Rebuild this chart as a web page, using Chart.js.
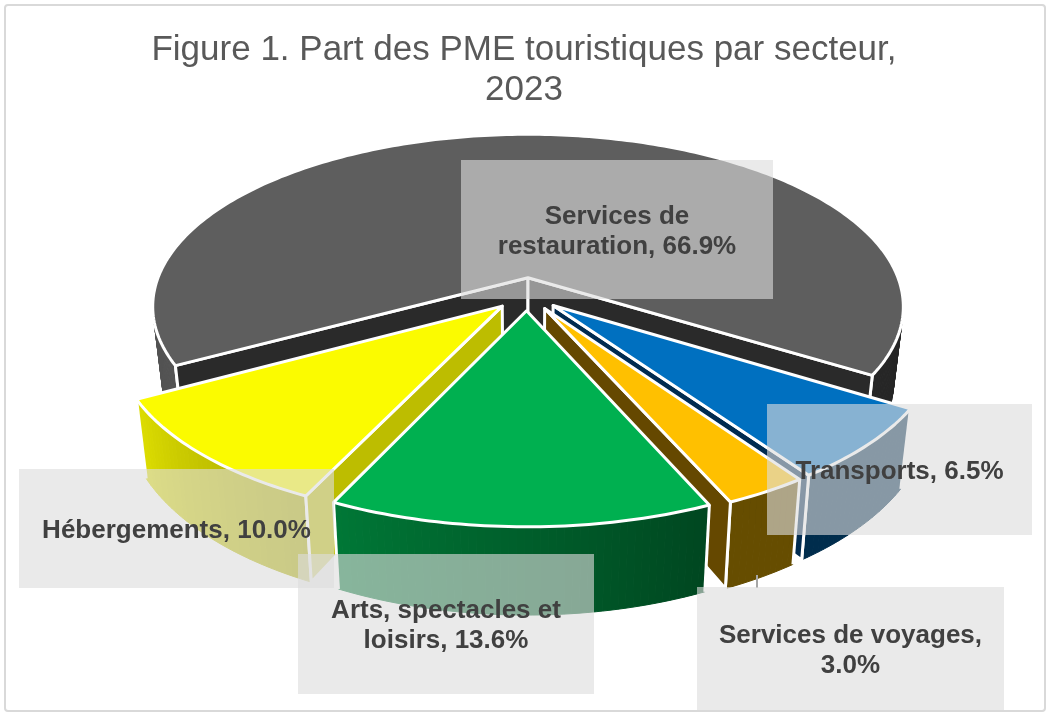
<!DOCTYPE html>
<html lang="fr">
<head>
<meta charset="utf-8">
<title>Part des PME touristiques par secteur</title>
<script src="https://cdn.jsdelivr.net/npm/chart.js@4/dist/chart.umd.js"></script>
<style>
  html, body { margin: 0; padding: 0; background: #fff; }
  canvas { display: block; }
</style>
</head>
<body>
<canvas id="pmeChart" width="1052" height="718"></canvas>
<script>
// Chart data
const sectors = ['Services de restauration', 'Transports', 'Services de voyages', 'Arts, spectacles et loisirs', 'Hébergements'];
const shares = [66.9, 6.5, 3.0, 13.6, 10.0];
const titleLines = ['Figure 1. Part des PME touristiques par secteur,', '2023'];

// Slice styling
const sliceColors = ['#5E5E5E', '#0070C0', '#FFC000', '#00B050', '#FBFB00'];
const cutFaceColors = ['#2A2A2A', '#002B50', '#654800', '#005A2A', '#BDBD00'];

// Label boxes, same order as sectors: left, top, right, bottom
const labelBoxes = [
    [461, 160, 773, 299],
    [767, 404, 1032, 535],
    [697, 587, 1004, 710],
    [298, 554, 594, 694],
    [19, 469, 334, 588]
];

// Camera for the tilted pie
const view = { cx: 527, cy: 294, rx: 376, ry: 173, persp: 0.17, scaleX: 0.975, scaleY: 1.07, drop: 72 };

function projectTop(x, y) {
    const w = 1 / (1 - view.persp * y);
    return { x: view.cx + view.rx * x * w, y: view.cy + view.ry * y * w };
}

function projectBottom(x, y) {
    const p = projectTop(x, y);
    return {
        x: view.cx + view.scaleX * (p.x - view.cx),
        y: view.cy + view.drop + view.scaleY * (p.y - view.cy)
    };
}

function shade(hex, f) {
    const r = parseInt(hex.slice(1, 3), 16);
    const g = parseInt(hex.slice(3, 5), 16);
    const b = parseInt(hex.slice(5, 7), 16);
    return `rgb(${Math.round(r * f)}, ${Math.round(g * f)}, ${Math.round(b * f)})`;
}

// Walls get lighter going clockwise from the lower right round to the left
function wallLight(angle) {
    let deg = (angle * 180 / Math.PI + 90) % 360;
    if (deg < 0) deg += 360;
    return Math.min(0.88, Math.max(0.4, 0.4 + (deg - 156) * 0.48 / 85));
}

function tracePoly(ctx, pts) {
    ctx.beginPath();
    pts.forEach((p, i) => i ? ctx.lineTo(p.x, p.y) : ctx.moveTo(p.x, p.y));
    ctx.closePath();
}

// Arc element drawn as an extruded slice in perspective
class Slice3dElement extends Chart.ArcElement {
    static id = 'slice3d';

    draw(ctx) {
        const { startAngle, endAngle, outerRadius } = this.getProps(['startAngle', 'endAngle', 'outerRadius']);
        const o = this.options;
        const mid = (startAngle + endAngle) / 2;
        const shift = o.offset / outerRadius;
        const ox = shift * Math.cos(mid);
        const oy = shift * Math.sin(mid);
        const rim = a => [ox + Math.cos(a), oy + Math.sin(a)];
        const steps = Math.ceil((endAngle - startAngle) / (Math.PI / 180));
        const angleAt = i => startAngle + (endAngle - startAngle) * i / steps;
        const color = o.backgroundColor;

        ctx.save();
        ctx.lineJoin = 'round';

        // outer wall
        for (let i = 0; i < steps; i++) {
            const a0 = angleAt(i), a1 = angleAt(i + 1);
            if (Math.sin((a0 + a1) / 2) < -0.25) continue;
            const [x0, y0] = rim(a0), [x1, y1] = rim(a1);
            const fill = shade(color, wallLight((a0 + a1) / 2));
            tracePoly(ctx, [projectTop(x0, y0), projectTop(x1, y1), projectBottom(x1, y1), projectBottom(x0, y0)]);
            ctx.fillStyle = fill;
            ctx.strokeStyle = fill;
            ctx.lineWidth = 1;
            ctx.fill();
            ctx.stroke();
        }

        ctx.strokeStyle = o.borderColor;
        ctx.lineWidth = o.borderWidth;

        // white corners where the wall meets the cut faces
        [startAngle, endAngle].forEach(a => {
            if (Math.sin(a) < -0.25) return;
            const [x, y] = rim(a);
            const t = projectTop(x, y), b = projectBottom(x, y);
            ctx.beginPath();
            ctx.moveTo(t.x, t.y);
            ctx.lineTo(b.x, b.y);
            ctx.stroke();
        });

        // cut faces, only those turned towards the viewer
        const faces = [];
        if (-Math.cos(startAngle) > 0) faces.push(startAngle);
        if (Math.cos(endAngle) > 0) faces.push(endAngle);
        faces.forEach(a => {
            const [x, y] = rim(a);
            tracePoly(ctx, [projectTop(ox, oy), projectTop(x, y), projectBottom(x, y), projectBottom(ox, oy)]);
            ctx.fillStyle = this.cutColor;
            ctx.fill();
            ctx.stroke();
        });

        // top
        const top = [projectTop(ox, oy)];
        for (let i = 0; i <= steps; i++) {
            const [x, y] = rim(angleAt(i));
            top.push(projectTop(x, y));
        }
        tracePoly(ctx, top);
        ctx.fillStyle = color;
        ctx.fill();
        ctx.stroke();
        ctx.restore();
    }
}

// Pie controller that paints slices from back to front
class Pie3dController extends Chart.PieController {
    static id = 'pie3d';
    static defaults = { dataElementType: 'slice3d' };

    draw() {
        const ctx = this.chart.ctx;
        const arcs = this.getMeta().data;
        arcs.forEach((arc, i) => { arc.cutColor = cutFaceColors[i]; });
        arcs.slice()
            .sort((a, b) => Math.sin((a.startAngle + a.endAngle) / 2) - Math.sin((b.startAngle + b.endAngle) / 2))
            .forEach(arc => arc.draw(ctx));
    }
}

Chart.register(Slice3dElement, Pie3dController);

const chartFrame = {
    id: 'chartFrame',
    beforeDraw(chart) {
        const ctx = chart.ctx;
        ctx.save();
        ctx.fillStyle = '#fff';
        ctx.fillRect(0, 0, chart.width, chart.height);
        ctx.strokeStyle = '#D9D9D9';
        ctx.lineWidth = 2;
        ctx.beginPath();
        ctx.roundRect(5, 5, 1040, 706, 3);
        ctx.stroke();
        ctx.restore();
    }
};

function wrapLabel(ctx, text, maxWidth) {
    const lines = [];
    let line = '';
    text.split(' ').forEach(word => {
        const next = line ? line + ' ' + word : word;
        if (line && ctx.measureText(next).width > maxWidth) {
            lines.push(line);
            line = word;
        } else {
            line = next;
        }
    });
    lines.push(line);
    return lines;
}

const sliceLabels = {
    id: 'sliceLabels',
    afterDatasetsDraw(chart) {
        const ctx = chart.ctx;
        ctx.save();

        // leader line for the travel services label
        ctx.strokeStyle = '#A6A6A6';
        ctx.lineWidth = 2;
        ctx.beginPath();
        ctx.moveTo(757, 575);
        ctx.lineTo(757, 588);
        ctx.stroke();

        ctx.font = 'bold 26px "Liberation Sans", Arial, sans-serif';
        ctx.textAlign = 'center';
        ctx.textBaseline = 'middle';
        sectors.forEach((name, i) => {
            const [l, t, r, b] = labelBoxes[i];
            ctx.fillStyle = 'rgba(221, 221, 221, 0.61)';
            ctx.fillRect(l, t, r - l, b - t);
            const lines = wrapLabel(ctx, `${name}, ${shares[i].toFixed(1)}%`, r - l - 36);
            const lineHeight = 30;
            const y0 = (t + b) / 2 + 2 - lineHeight * (lines.length - 1) / 2;
            ctx.fillStyle = '#404040';
            lines.forEach((line, j) => ctx.fillText(line, (l + r) / 2, y0 + j * lineHeight));
        });
        ctx.restore();
    }
};

new Chart(document.getElementById('pmeChart').getContext('2d'), {
    type: 'pie3d',
    data: {
        labels: sectors,
        datasets: [{
            data: shares,
            backgroundColor: sliceColors,
            borderColor: '#fff',
            borderWidth: 3,
            offset: 27
        }]
    },
    options: {
        responsive: false,
        animation: false,
        rotation: 241.2,
        layout: { padding: { right: 4 } },
        font: { family: '"Liberation Sans", Arial, sans-serif' },
        plugins: {
            legend: { display: false },
            tooltip: { enabled: false },
            title: {
                display: true,
                text: titleLines,
                color: '#595959',
                font: { family: '"Liberation Sans", Arial, sans-serif', size: 35, weight: 'normal', lineHeight: 1.13 },
                padding: { top: 31, bottom: 10 }
            }
        }
    },
    plugins: [chartFrame, sliceLabels]
});
</script>
</body>
</html>
